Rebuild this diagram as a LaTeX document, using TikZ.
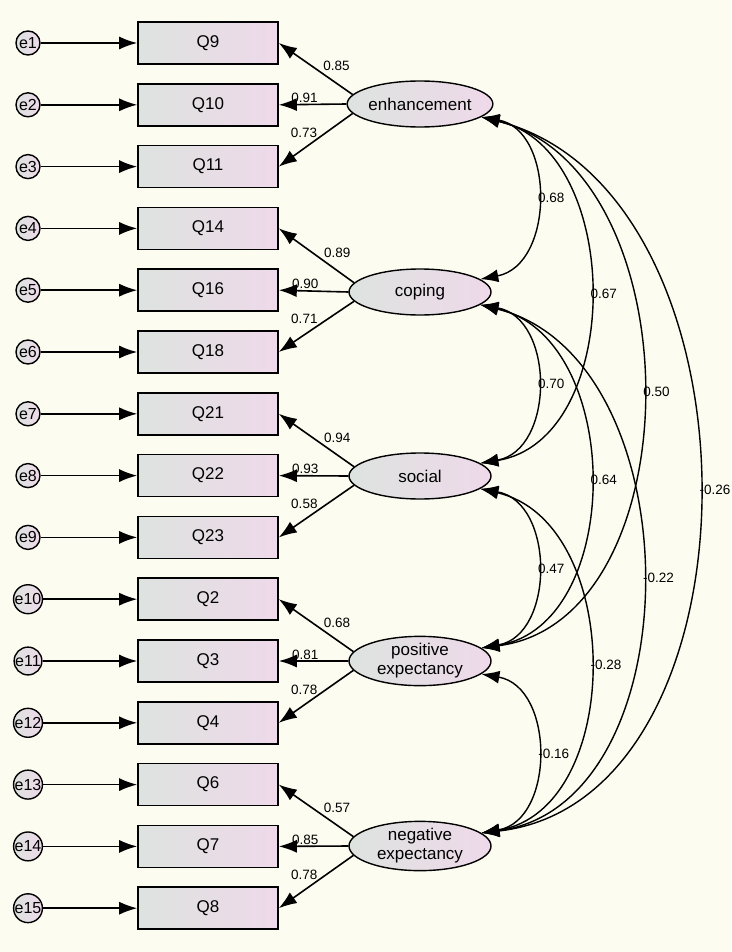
\documentclass[tikz,border=0pt]{standalone}
\usepackage{fontspec}
\setmainfont{Liberation Sans}
\usetikzlibrary{shapes.geometric,arrows.meta}
\definecolor{paper}{HTML}{FCFCF0}
\definecolor{lgreen}{HTML}{DDE3DF}
\definecolor{lpink}{HTML}{EFD9EA}
\begin{document}
\begin{tikzpicture}[x=1pt, y=-1pt,
    item/.style={draw, line width=1.6pt, minimum width=140pt, minimum height=42pt,
                 left color=lgreen, right color=lpink, font=\fontsize{17}{19}\selectfont},
    err/.style={draw, line width=1.4pt, circle, minimum size=24pt, inner sep=0pt,
                left color=lgreen, right color=lpink, font=\fontsize{16}{18}\selectfont},
    lat/.style={draw, line width=1.4pt, ellipse, minimum width=142pt, minimum height=46pt, inner sep=0pt,
                left color=lgreen, right color=lpink, align=center,
                font=\fontsize{17}{19}\selectfont},
    arr/.style={-{Latex[length=18pt,width=13pt]}, line width=1.6pt},
    cov/.style={{Latex[length=18pt,width=13pt]}-{Latex[length=18pt,width=13pt]}, line width=1.4pt},
    lbl/.style={font=\fontsize{13.5}{15}\selectfont, inner sep=1pt}
  ]
  \useasboundingbox (0,0) rectangle (731,952);
  \fill[paper] (0,0) rectangle (731,952);

  % indicators and error terms
  \foreach \i/\q [count=\n] in {1/Q9,2/Q10,3/Q11,4/Q14,5/Q16,6/Q18,7/Q21,8/Q22,9/Q23,
                                10/Q2,11/Q3,12/Q4,13/Q6,14/Q7,15/Q8} {
    \pgfmathsetmacro{\ypos}{43+61.8*(\n-1)}
    \node[item] (q\n) at (208,\ypos) {\q};
    \node[err] (e\n) at (28,\ypos) {e\i};
    \draw[arr] (e\n) -- (q\n);
  }

  % latent factors
  \node[lat] (enh) at (420,104) {enhancement};
  \node[lat] (cop) at (420,292) {coping};
  \node[lat] (soc) at (420,476) {social};
  \node[lat] (pos) at (420,661) {positive\\expectancy};
  \node[lat] (neg) at (420,846) {negative\\expectancy};

  % loadings
  \foreach \f/\a/\b/\c/\la/\lb/\lc in {enh/1/2/3/0.85/0.91/0.73, cop/4/5/6/0.89/0.90/0.71,
                                     soc/7/8/9/0.94/0.93/0.58, pos/10/11/12/0.68/0.81/0.78,
                                     neg/13/14/15/0.57/0.85/0.78} {
    \draw[arr] (\f.172) -- node[lbl, pos=0.42, above right] {\la} (q\a.east);
    \draw[arr] (\f.west) -- node[lbl, pos=0.62, above] {\lb} (q\b.east);
    \draw[arr] (\f.188) -- node[lbl, pos=0.66, above=9pt] {\lc} (q\c.east);
  }

  % covariances
  \draw[cov] (enh.-12) .. controls (555,130) and (555,265) .. node[lbl, right] {0.68} (cop.12);
  \draw[cov] (enh.-12) .. controls (625,150) and (625,440) .. node[lbl, right] {0.67} (soc.12);
  \draw[cov] (enh.-12) .. controls (695,170) and (695,620) .. node[lbl, right] {0.50} (pos.12);
  \draw[cov] (enh.-12) .. controls (770,190) and (770,800) .. node[lbl, right] {-0.26} (neg.12);
  \draw[cov] (cop.-12) .. controls (555,318) and (555,450) .. node[lbl, right] {0.70} (soc.12);
  \draw[cov] (cop.-12) .. controls (625,338) and (625,625) .. node[lbl, right] {0.64} (pos.12);
  \draw[cov] (cop.-12) .. controls (695,358) and (695,805) .. node[lbl, right] {-0.22} (neg.12);
  \draw[cov] (soc.-12) .. controls (555,502) and (555,635) .. node[lbl, right] {0.47} (pos.12);
  \draw[cov] (soc.-12) .. controls (625,522) and (625,810) .. node[lbl, right] {-0.28} (neg.12);
  \draw[cov] (pos.-12) .. controls (555,687) and (555,820) .. node[lbl, right] {-0.16} (neg.12);
\end{tikzpicture}
\end{document}
